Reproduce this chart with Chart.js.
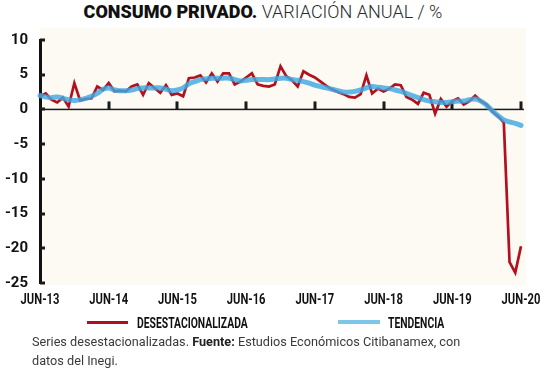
<!DOCTYPE html>
<html>
<head>
<meta charset="utf-8">
<script src="https://cdn.jsdelivr.net/npm/chart.js@4.4.0/dist/chart.umd.min.js"></script>
<style>
  html, body { margin:0; padding:0; background:#fff; width:550px; height:368px; overflow:hidden; }
  #wrap { position:relative; width:550px; height:368px; }
  #title { position:absolute; top:0; left:0; width:526px; text-align:center; font-size:18px; line-height:24px; white-space:nowrap; }
  #title b { font-family:Roboto, sans-serif; font-weight:900; color:#111; }
  #title span { font-family:Roboto, sans-serif; font-weight:300; color:#2a2a2a; }
  #chartBox { position:absolute; left:0; top:0; width:550px; height:320px; }
  .key { position:absolute; }
  .keyText { position:absolute; top:315px; font-family:Roboto, sans-serif; font-weight:bold; font-size:14px; line-height:16px; color:#111; transform:scaleX(0.74); transform-origin:0 0; white-space:nowrap; }
  #note { position:absolute; left:32px; top:332px; width:515px; font-family:Roboto, sans-serif; font-size:12.7px; line-height:19px; color:#3a3a3a; white-space:nowrap; }
  #note b { font-weight:700; color:#222; }
</style>
</head>
<body>
<div id="wrap">
  <div id="title"><b>CONSUMO PRIVADO.</b><span> VARIACIÓN ANUAL / %</span></div>
  <div id="chartBox"><canvas id="consumoChart" width="550" height="320"></canvas></div>
  <div class="key" style="left:87px;top:321px;width:41px;height:3px;background:#b0101e;"></div>
  <div class="keyText" style="left:137px;">DESESTACIONALIZADA</div>
  <div class="key" style="left:338px;top:320px;width:42px;height:4px;background:#7ec5ea;"></div>
  <div class="keyText" style="left:388px;">TENDENCIA</div>
  <div id="note">Series desestacionalizadas. <b>Fuente:</b> Estudios Económicos Citibanamex, con<br>datos del Inegi.</div>
</div>

<script>
/* DATA: monthly, Jun-2013 .. Jun-2020 */
const MONTHS = ["JUN","JUL","AGO","SEP","OCT","NOV","DIC","ENE","FEB","MAR","ABR","MAY"];
const YEAR_TICKS = ["JUN-13","JUN-14","JUN-15","JUN-16","JUN-17","JUN-18","JUN-19","JUN-20"];
const Y_TICKS = [10, 5, 0, -5, -10, -15, -20, -25];

const desestacionalizada = [
  1.9, 2.3, 1.4, 1.0, 1.7, 0.4, 3.8, 1.3, 1.5, 1.6, 3.3, 2.8,
  3.8, 2.6, 2.7, 2.6, 3.3, 3.6, 2.1, 3.8, 3.1, 2.4, 3.5, 2.1,
  2.3, 1.9, 4.5, 4.6, 4.9, 3.9, 5.2, 4.0, 5.2, 5.2, 3.6, 4.0,
  4.6, 5.2, 3.6, 3.4, 3.3, 3.6, 6.2, 4.8, 4.2, 3.3, 5.5, 5.0,
  4.6, 4.0, 3.4, 2.9, 2.5, 2.2, 1.8, 1.7, 2.2, 4.9, 2.3, 3.0,
  2.6, 3.0, 3.6, 3.5, 1.8, 1.4, 0.8, 2.4, 2.1, -0.6, 1.5, 0.4,
  1.2, 1.6, 0.7, 1.2, 2.0, 1.2, 0.7, -0.3, -1.0, -1.9, -22.0, -23.5,
  -19.7
];

const tendencia = [
  2.0, 1.8, 1.7, 1.8, 1.6, 1.4, 1.3, 1.4, 1.6, 1.9, 2.3, 2.9,
  3.1, 2.8, 2.7, 2.7, 2.8, 3.0, 3.1, 3.1, 3.1, 3.1, 2.9, 2.7,
  2.8, 3.1, 3.7, 4.0, 4.3, 4.4, 4.5, 4.5, 4.5, 4.5, 4.3, 4.1,
  4.2, 4.3, 4.3, 4.3, 4.3, 4.4, 4.5, 4.5, 4.3, 4.2, 4.0, 3.8,
  3.5, 3.3, 3.1, 2.9, 2.7, 2.5, 2.5, 2.6, 2.8, 3.1, 3.3, 3.2,
  3.1, 3.0, 2.8, 2.6, 2.3, 2.0, 1.7, 1.4, 1.2, 1.1, 1.0, 1.0,
  1.1, 1.2, 1.2, 1.4, 1.5, 1.2, 0.6, -0.2, -0.9, -1.5, -1.8, -2.0,
  -2.3
];

// month labels for the category axis
const labels = [];
for (let i = 0; i < desestacionalizada.length; i++) {
  const yr = 13 + Math.floor((i + 5) / 12);
  labels.push(MONTHS[i % 12] + "-" + yr);
}

/* background, zero line, inner tick marks, condensed x labels */
const axisMarks = {
  id: "axisMarks",
  beforeDraw(chart){
    const {ctx, chartArea:a} = chart;
    ctx.save();
    ctx.fillStyle = "#fcfaf2";
    ctx.fillRect(a.left, a.top - 12, a.right - a.left + 5, a.bottom - a.top + 14);
    ctx.restore();
  },
  beforeDatasetsDraw(chart){
    const {ctx, chartArea:a, scales:{x, y}} = chart;
    const y0 = y.getPixelForValue(0);
    ctx.save();
    ctx.fillStyle = "#1a1a1a";
    ctx.fillRect(a.left, y0 - 0.75, a.right - a.left + 3, 1.5);
    // june marks on the zero line
    for (let i = 12; i < labels.length; i += 12) {
      const px = x.getPixelForValue(i);
      ctx.fillRect(Math.round(px) - 1.5, y0 - 8, 3, 8);
    }
    // small marks right of the y axis
    Y_TICKS.forEach(v => {
      const py = y.getPixelForValue(v);
      ctx.fillRect(a.left, Math.round(py) - 1.5, 5, 3);
    });
    ctx.restore();
  },
  afterDraw(chart){
    // x labels drawn narrow (the source uses a condensed face)
    const {ctx, chartArea:a, scales:{x}} = chart;
    ctx.save();
    ctx.fillStyle = "#111";
    ctx.font = "bold 14px Roboto, sans-serif";
    ctx.textAlign = "center";
    ctx.textBaseline = "middle";
    YEAR_TICKS.forEach((t, k) => {
      const px = x.getPixelForValue(k * 12);
      ctx.save();
      ctx.translate(px, a.bottom + 17);
      ctx.scale(0.8, 1);
      ctx.fillText(t, 0, 0);
      ctx.restore();
    });
    ctx.restore();
  }
};

new Chart(document.getElementById("consumoChart"), {
  type: "line",
  data: {
    labels,
    datasets: [
      {
        label: "TENDENCIA",
        data: tendencia,
        borderColor: "rgba(62,168,226,0.82)",
        borderWidth: 5,
        tension: 0.4,
        pointRadius: 0,
        borderCapStyle: "round",
        borderJoinStyle: "round",
        order: 0,
        clip: false
      },
      {
        label: "DESESTACIONALIZADA",
        data: desestacionalizada,
        borderColor: "#b3101d",
        borderWidth: 2.7,
        tension: 0,
        pointRadius: 0,
        borderJoinStyle: "miter",
        order: 1,
        clip: false
      }
    ]
  },
  options: {
    responsive: false,
    animation: false,
    events: [],
    layout: { padding: { top: 40, right: 29, bottom: 12, left: 0 } },
    plugins: {
      legend: { display: false },
      title: { display: false },
      tooltip: { enabled: false }
    },
    scales: {
      x: {
        offset: false,
        grid: { display: false, drawTicks: false },
        border: { display: false },
        ticks: { display: false, autoSkip: false, maxRotation: 0 },
        afterFit: s => { s.height = 25; }
      },
      y: {
        min: -25,
        max: 10,
        grid: { display: false, drawTicks: false },
        border: { display: true, color: "#111", width: 3 },
        ticks: {
          stepSize: 5,
          padding: 12,
          color: "#111",
          font: { family: "Roboto, sans-serif", weight: "bold", size: 15 }
        },
        afterFit: s => { s.width = 40; }
      }
    }
  },
  plugins: [axisMarks]
});
</script>
</body>
</html>
